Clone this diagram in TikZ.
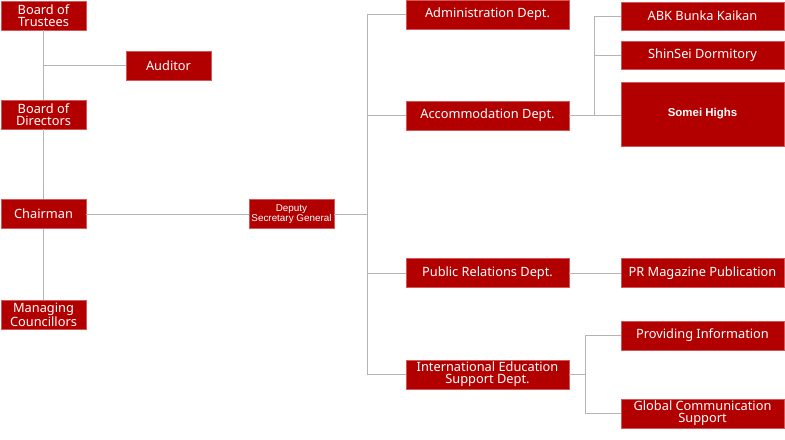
\documentclass[tikz,border=0pt]{standalone}
\usepackage{fontspec}
\setmainfont{Noto Sans}
\newfontfamily\arialfont{Liberation Sans}
\definecolor{boxred}{HTML}{B20000}
\definecolor{boxedge}{HTML}{D05858}
\definecolor{linegray}{HTML}{B4B4B4}
\begin{document}
\begin{tikzpicture}[x=0.75pt,y=-0.75pt,
  box/.style={fill=boxred,draw=boxedge,line width=0.5pt,text=white,inner sep=0pt,
    align=center,font=\fontsize{9.6pt}{9pt}\selectfont},
  sbox/.style={box,minimum width=63.75pt,minimum height=21.75pt},
  wbox/.style={box,minimum width=122.25pt,minimum height=21.75pt},
  conn/.style={draw=linegray,line width=0.75pt}]
\useasboundingbox (0,0) rectangle (785,439);
% left column
\node[sbox] (bot) at (43.5,15.5) {Board of\\Trustees};
\node[sbox] (aud) at (168.5,65.5) {Auditor};
\node[sbox] (bod) at (43.5,114.5) {Board of\\Directors};
\node[sbox] (ch) at (43.5,214) {Chairman};
\node[sbox] (mc) at (43.5,314.5) {Managing\\Councillors};
\node[sbox,font=\arialfont\fontsize{7.4pt}{7.8pt}\selectfont] (dsg) at (291.5,214) {Deputy\\Secretary General};
% departments
\node[wbox] (adm) at (487.5,14.5) {Administration Dept.};
\node[wbox] (acc) at (487.5,115.5) {Accommodation Dept.};
\node[wbox] (pr) at (487.5,273) {Public Relations Dept.};
\node[wbox] (ied) at (487.5,374.5) {International Education\\Support Dept.};
% right column
\node[wbox,minimum height=21pt] (abk) at (702.5,16) {ABK Bunka Kaikan};
\node[wbox,minimum height=21pt] (shin) at (702.5,55) {ShinSei Dormitory};
\node[wbox,minimum height=48pt,font=\arialfont\bfseries\fontsize{8.6pt}{9pt}\selectfont] (somei) at (702.5,114) {Somei Highs};
\node[wbox] (prm) at (702.5,273) {PR Magazine Publication};
\node[wbox] (pinf) at (702.5,335.5) {Providing Information};
\node[wbox] (gcs) at (702.5,413.5) {Global Communication\\Support};
% junction coordinates
\coordinate (ja) at (43.5,65.5);
\coordinate (tt) at (367,14.5);
\coordinate (tm) at (367,214);
\coordinate (tacc) at (367,115.5);
\coordinate (tpr) at (367,273);
\coordinate (tb) at (367,374.5);
\coordinate (ka) at (594,16);
\coordinate (ks) at (594,55);
\coordinate (kb) at (594,115.5);
\coordinate (ia) at (585,335.5);
\coordinate (ib) at (585,374.5);
\coordinate (ic) at (585,413.5);
% connectors
\draw[conn] (bot.south) -- (bod.north);
\draw[conn] (bod.south) -- (ch.north);
\draw[conn] (ch.south) -- (mc.north);
\draw[conn] (ja) -- (aud.west);
\draw[conn] (ch.east) -- (dsg.west);
\draw[conn] (dsg.east) -- (tm);
\draw[conn] (tt) -- (tb);
\draw[conn] (tt) -- (adm.west);
\draw[conn] (tacc) -- (acc.west);
\draw[conn] (tpr) -- (pr.west);
\draw[conn] (tb) -- (ied.west);
\draw[conn] (acc.east) -- (kb);
\draw[conn] (ka) -- (kb);
\draw[conn] (ka) -- (abk.west);
\draw[conn] (ks) -- (shin.west);
\draw[conn] (kb) -- (kb -| somei.west);
\draw[conn] (pr.east) -- (prm.west);
\draw[conn] (ied.east) -- (ib);
\draw[conn] (ia) -- (ic);
\draw[conn] (ia) -- (pinf.west);
\draw[conn] (ic) -- (gcs.west);
\end{tikzpicture}
\end{document}
